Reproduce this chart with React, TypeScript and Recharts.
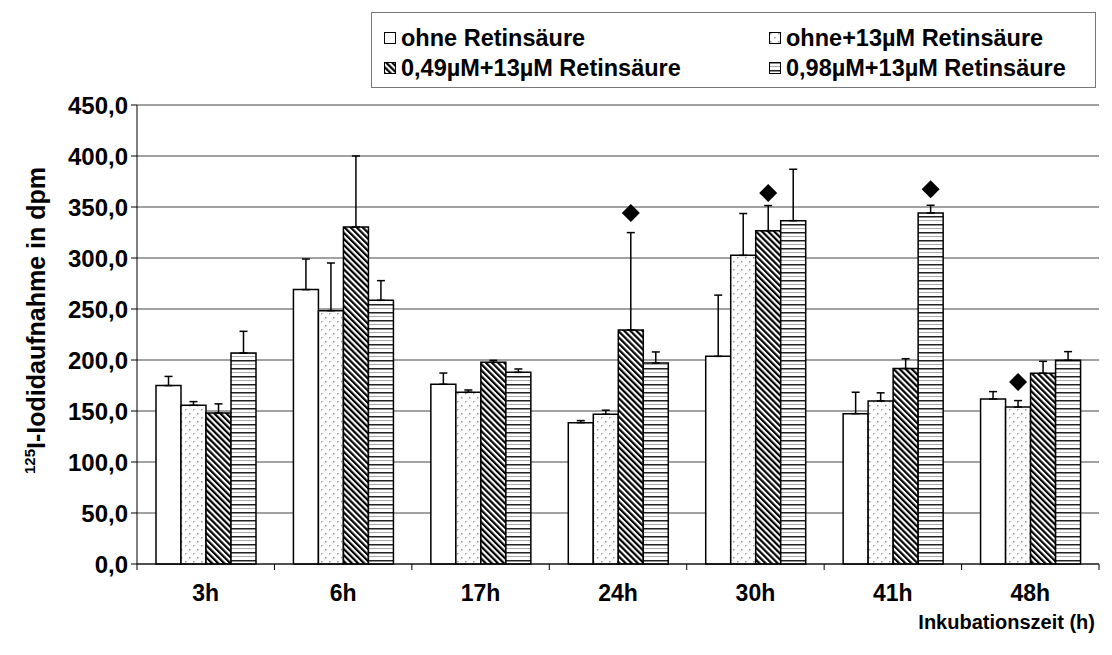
import React from 'react';
import { BarChart, Bar, XAxis, YAxis, CartesianGrid, ErrorBar, LabelList } from 'recharts';

const categories = ['3h', '6h', '17h', '24h', '30h', '41h', '48h'];
const seriesNames = ['ohne Retinsäure', 'ohne+13µM Retinsäure', '0,49µM+13µM Retinsäure', '0,98µM+13µM Retinsäure'];

// mean values (dpm)
const ohne = [174.9, 269.0, 176.2, 138.6, 203.6, 147.4, 161.8];
const ohne13 = [155.6, 248.4, 168.3, 146.8, 302.6, 159.8, 153.9];
const m049 = [148.0, 330.4, 197.7, 229.4, 326.8, 191.6, 187.0];
const m098 = [206.9, 258.5, 187.9, 197.1, 336.6, 344.1, 199.7];

// upper error (SD)
const ohneErr = [9.0, 30.0, 11.0, 2.0, 60.0, 21.0, 7.2];
const ohne13Err = [3.6, 46.7, 2.3, 4.0, 41.0, 8.0, 6.3];
const m049Err = [9.0, 69.6, 2.0, 95.5, 24.6, 9.6, 11.7];
const m098Err = [21.2, 19.3, 3.3, 10.8, 50.4, 7.6, 8.5];

// significance markers (diamonds)
const ohneMark = [null, null, null, null, null, null, null];
const ohne13Mark = [null, null, null, null, null, null, 178.4];
const m049Mark = [null, null, null, 344.1, 363.7, null, null];
const m098Mark = [null, null, null, null, null, 367.4, null];

const yTicks = [0, 50, 100, 150, 200, 250, 300, 350, 400, 450];

const FONT = '"Liberation Sans", Arial, Helvetica, sans-serif';
const keys = ['s0', 's1', 's2', 's3'];
const fills = ['#ffffff', 'url(#pDots)', 'url(#pDiag)', 'url(#pHoriz)'];
const values = [ohne, ohne13, m049, m098];
const errors = [ohneErr, ohne13Err, m049Err, m098Err];
const markers = [ohneMark, ohne13Mark, m049Mark, m098Mark];

const data = categories.map((cat, i) => {
  const row: any = { cat };
  keys.forEach((k, s) => {
    row[k] = values[s][i];
    row[k + 'Err'] = [0, errors[s][i]];
    row[k + 'Mark'] = markers[s][i];
  });
  return row;
});

const makeDiamond = (key: string) => (props: any) => {
  const { value, index } = props;
  if (value == null || index == null) return null;
  const vb = props.viewBox || props;
  const h = vb.height;
  const barVal = data[index][key];
  if (!h || !barVal) return null;
  const cx = vb.x + vb.width / 2;
  const cy = vb.y + h - value * (h / barVal);
  const r = 9;
  return <path d={`M${cx},${cy - r}L${cx + r},${cy}L${cx},${cy + r}L${cx - r},${cy}Z`} fill="#000" />;
};

const XTick = (props: any) => {
  const { x, y, payload, index } = props;
  const off = payload.offset || 0;
  return (
    <g>
      <line x1={x - off} y1={y} x2={x - off} y2={y + 6} stroke="#000" />
      {index === categories.length - 1 && <line x1={x + off} y1={y} x2={x + off} y2={y + 6} stroke="#000" />}
      <text x={x} y={y + 29} textAnchor="middle" dominantBaseline="central" fill="#000"
        fontFamily={FONT} fontWeight="bold" fontSize={23}>{payload.value}</text>
    </g>
  );
};

const YTitle = (props: any) => {
  const vb = props.viewBox;
  const cx = vb.x + 37;
  const cy = vb.y + vb.height / 2 - 14;
  return (
    <text transform={`translate(${cx},${cy}) rotate(-90)`} textAnchor="middle" fill="#000"
      fontFamily={FONT} fontWeight="bold" fontSize={25}>
      <tspan fontSize={15} dy={-10}>125</tspan>
      <tspan dy={10}>I-Iodidaufnahme in dpm</tspan>
    </text>
  );
};

const XTitle = (props: any) => {
  const vb = props.viewBox;
  return (
    <text x={vb.x + vb.width - 4} y={vb.y + 58} textAnchor="end" dominantBaseline="central" fill="#000"
      fontFamily={FONT} fontWeight="bold" fontSize={20}>Inkubationszeit (h)</text>
  );
};

export default function App() {
  return (
    <div style={{ position: 'relative', width: 1104, height: 647 }}>
      <BarChart width={1104} height={647} data={data} barSize={25} barGap={0}
        margin={{ top: 97, right: 13, left: 0, bottom: 21 }}>
        <defs>
          <pattern id="pDots" width="8" height="8" patternUnits="userSpaceOnUse">
            <rect width="8" height="8" fill="#fff" />
            <rect x="1" y="1" width="1.5" height="1.5" fill="#999" />
            <rect x="5" y="5" width="1.5" height="1.5" fill="#999" />
          </pattern>
          <pattern id="pDiag" width="4.3" height="4.3" patternUnits="userSpaceOnUse" patternTransform="rotate(-45)">
            <rect width="4.3" height="4.3" fill="#fff" />
            <rect width="2.2" height="4.3" fill="#000" />
          </pattern>
          <pattern id="pHoriz" width="8" height="8" patternUnits="userSpaceOnUse">
            <rect width="8" height="8" fill="#fff" />
            <rect y="0" width="8" height="1.5" fill="#222" />
            <rect y="4" width="8" height="1" fill="#aaa" />
          </pattern>
        </defs>
        <CartesianGrid vertical={false} stroke="#444" />
        <XAxis dataKey="cat" height={70} tickSize={0} tickMargin={0} tickLine={false} interval={0}
          axisLine={{ stroke: '#000' }} tick={<XTick />} label={{ content: <XTitle /> }} />
        <YAxis domain={[0, 450]} ticks={yTicks} interval={0} width={129} tickSize={6} tickMargin={3}
          tickFormatter={(v: number) => v.toFixed(1).replace('.', ',')}
          axisLine={{ stroke: '#000' }} tickLine={{ stroke: '#000' }}
          tick={{ fill: '#000', fontSize: 24, fontWeight: 'bold', fontFamily: FONT }}
          label={{ content: <YTitle /> }} />
        {keys.map((k, s) => (
          <Bar key={k} dataKey={k} name={seriesNames[s]} fill={fills[s]} stroke="#000" strokeWidth={1.5}
            isAnimationActive={false}>
            <ErrorBar dataKey={k + 'Err'} direction="y" width={4} stroke="#000" strokeWidth={1.5} isAnimationActive={false} />
            <LabelList dataKey={k + 'Mark'} content={makeDiamond(k)} />
          </Bar>
        ))}
      </BarChart>
      <div style={{
        position: 'absolute', left: 363, top: 4, width: 725, height: 76, border: '1px solid #777',
        boxSizing: 'border-box', background: '#fff', fontFamily: FONT, fontWeight: 'bold', fontSize: 23.5, color: '#000'
      }}>
        {seriesNames.map((n, s) => (
          <div key={n} style={{
            position: 'absolute', left: s % 2 ? 397 : 12, top: s < 2 ? 13 : 43, height: 24,
            display: 'flex', alignItems: 'center', whiteSpace: 'nowrap'
          }}>
            <svg width={13} height={13} style={{ marginRight: 4 }}>
              <rect x={0.5} y={0.5} width={11} height={11} fill={fills[s]} stroke="#000" />
            </svg>
            {n}
          </div>
        ))}
      </div>
    </div>
  );
}
